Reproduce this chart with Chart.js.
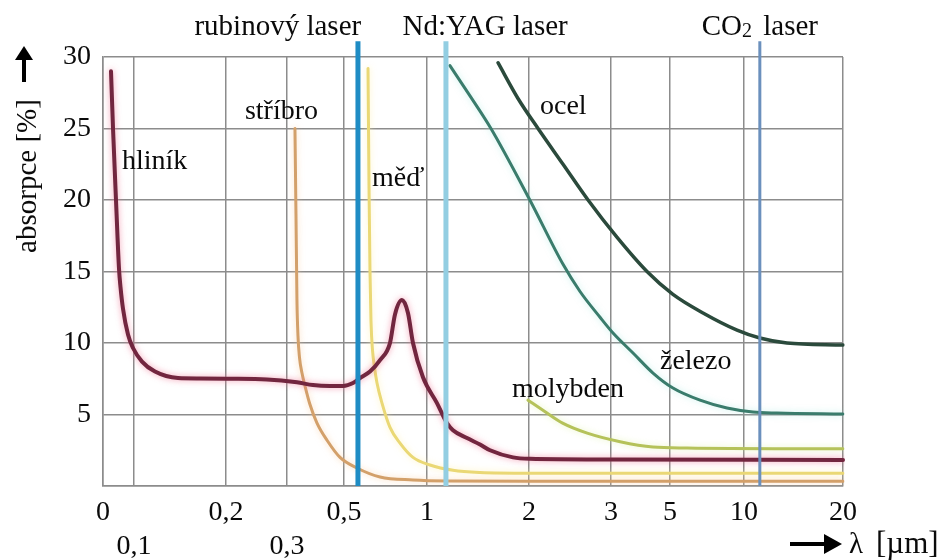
<!DOCTYPE html>
<html>
<head>
<meta charset="utf-8">
<script src="https://cdn.jsdelivr.net/npm/chart.js@4/dist/chart.umd.min.js"></script>
<style>
html,body{margin:0;padding:0;background:#fff;}
#wrap{width:947px;height:560px;position:relative;}
canvas{display:block;}
</style>
</head>
<body>
<div id="wrap"><canvas id="c" width="947" height="560"></canvas></div>
<script>
// ---------- DATA ----------
const tickValues = [0, 0.1, 0.2, 0.3, 0.5, 1, 2, 3, 5, 10, 20];
const tickLabels = ['0', '0,1', '0,2', '0,3', '0,5', '1', '2', '3', '5', '10', '20'];
const yTicks = [0, 5, 10, 15, 20, 25, 30];

const hlinikX = [0.0258,0.0323,0.0419,0.0516,0.0565,0.0645,0.0806,0.0968,0.1087,0.1228,0.1478,0.1717,0.2016,0.2672,0.3351,0.3912,0.4509,0.4965,0.5542,0.5964,0.6566,0.7169,0.7771,0.8072,0.8494,0.8855,0.9157,0.9759,1.098,1.196,1.255,1.392,1.520,1.618,1.843,2.012,3,20];
const hlinikY = [29.0,25,20,15.2,13.9,12.4,10.6,9.65,8.7,8.0,7.55,7.52,7.5,7.45,7.25,7.06,7.0,7.0,7.2,7.55,8.0,8.8,10.0,12.0,13.0,12.1,10.0,7.6,5.8,4.4,3.9,3.35,2.9,2.5,2.0,1.9,1.85,1.82];

const stribroX = [0.328,0.3316,0.335,0.3386,0.3439,0.3526,0.3632,0.3807,0.4053,0.4404,0.486,0.578,0.717,0.916,1.196,2.01,20];
const stribroY = [25,19,13,10.5,9.0,7.9,7.0,5.7,4.4,3.2,2.0,1.26,0.63,0.42,0.35,0.33,0.33];

const medX = [0.6446,0.6506,0.6566,0.6627,0.6717,0.6837,0.6988,0.7289,0.7771,0.8373,0.9157,1.029,1.255,1.52,2.01,20];
const medY = [29.2,21,15,11.5,9.5,8.3,7.2,5.8,4.1,3.0,2.0,1.47,1.1,0.95,0.9,0.9];

const ocelX = [1.696,1.892,2.11,2.415,2.72,3.2,4.22,5.2,7.23,9.53,11.6,14.34,20];
const ocelY = [29.6,27.1,25.0,22.5,20.0,17.4,15.0,13.4,12.1,10.9,10.35,10.0,9.86];

const zelezoX = [1.225,1.42,1.627,2.01,2.415,2.622,2.866,3.068,3.746,4.424,5.2,7.03,8.85,10.9,13.33,20];
const zelezoY = [29.4,27.3,25.0,20.0,15.5,13.6,11.8,10.7,9.3,7.9,6.85,6.0,5.45,5.17,5.1,5.03];

const molybdenX = [1.99,2.17,2.41,2.71,3.31,4.42,6.15,20];
const molybdenY = [6.0,5.3,4.4,3.7,3.1,2.73,2.66,2.6];

const laserNames = ['rubinový laser', 'Nd:YAG laser', 'CO2 laser'];
const laserWavelengths = [0.584, 1.186, 11.6];
const laserLineTop = 31.1;

const curveNames = ['hliník', 'stříbro', 'měď', 'ocel', 'železo', 'molybden'];
const curveLabelX = [0.061, 0.231, 0.669, 2.134, 4.66, 1.833];
const curveLabelY = [22.7, 26.15, 21.5, 26.5, 8.67, 6.71];
const laserLabelX = [0.285, 1.57, 11.6];

// ---------- AXIS GEOMETRY / STYLE ----------
const axisStops = [0, 0.0419, 0.1662, 0.2486, 0.3257, 0.4378, 0.5757, 0.6865, 0.7662, 0.8662, 1];
const labelLowerRow = [false, true, false, true, false, false, false, false, false, false, false];
const FONT_FAMILY = '"Liberation Serif", "Times New Roman", serif';
const FONT_SIZE = 28;
const GRID = '#8c8c8c';
const INK = '#0a0a0a';

class SegmentScale extends Chart.LinearScale {
  determineDataLimits() {
    this.min = tickValues[0];
    this.max = tickValues[tickValues.length - 1];
  }
  buildTicks() {
    return tickValues.map(v => ({ value: v }));
  }
  _toDecimal(v) {
    const n = tickValues.length;
    if (v <= tickValues[0]) return axisStops[0];
    for (let i = 1; i < n; i++) {
      if (v <= tickValues[i]) {
        const t = (v - tickValues[i - 1]) / (tickValues[i] - tickValues[i - 1]);
        return axisStops[i - 1] + t * (axisStops[i] - axisStops[i - 1]);
      }
    }
    return axisStops[n - 1];
  }
  getPixelForValue(v) {
    return this.getPixelForDecimal(this._toDecimal(v));
  }
  getValueForPixel(p) {
    const d = this.getDecimalForPixel(p);
    for (let i = 1; i < axisStops.length; i++) {
      if (d <= axisStops[i]) {
        const t = (d - axisStops[i - 1]) / (axisStops[i] - axisStops[i - 1]);
        return tickValues[i - 1] + t * (tickValues[i] - tickValues[i - 1]);
      }
    }
    return tickValues[tickValues.length - 1];
  }
}
SegmentScale.id = 'segment';
SegmentScale.defaults = {};
Chart.register(SegmentScale);

function pts(xs, ys) { return xs.map((x, i) => ({ x: x, y: ys[i] })); }

const curveStyles = [
  { color: '#72263f', width: 4, glow: 'rgba(240,120,150,0.7)' },
  { color: '#d3a06a', width: 3, glow: 'rgba(250,200,150,0.6)' },
  { color: '#ead875', width: 3, glow: 'rgba(255,240,170,0.7)' },
  { color: '#2b4a3c', width: 3.5, glow: null },
  { color: '#3a7c6c', width: 3, glow: 'rgba(150,230,220,0.5)' },
  { color: '#b5c25a', width: 3, glow: 'rgba(220,240,160,0.6)' }
];
const laserStyles = [
  { color: '#1f8cc4', width: 5 },
  { color: '#93cee2', width: 5 },
  { color: '#6b90bd', width: 3 }
];

const curveData = [
  pts(hlinikX, hlinikY), pts(stribroX, stribroY), pts(medX, medY),
  pts(ocelX, ocelY), pts(zelezoX, zelezoY), pts(molybdenX, molybdenY)
];

const datasets = [];
laserWavelengths.forEach((w, i) => {
  datasets.push({
    label: laserNames[i],
    data: [{ x: w, y: 0 }, { x: w, y: laserLineTop }],
    borderColor: laserStyles[i].color,
    borderWidth: laserStyles[i].width,
    pointRadius: 0,
    tension: 0,
    clip: false,
    borderCapStyle: 'butt'
  });
});
curveData.forEach((d, i) => {
  datasets.push({
    label: curveNames[i],
    data: d,
    borderColor: curveStyles[i].color,
    borderWidth: curveStyles[i].width,
    pointRadius: 0,
    cubicInterpolationMode: 'monotone',
    glow: curveStyles[i].glow,
    borderCapStyle: 'round',
    borderJoinStyle: 'round'
  });
});

const glowPlugin = {
  id: 'glow',
  beforeDatasetDraw(chart, args) {
    const ds = chart.data.datasets[args.index];
    if (ds.glow) {
      chart.ctx.save();
      chart.ctx.shadowColor = ds.glow;
      chart.ctx.shadowBlur = 6;
      ds._glowOn = true;
    }
  },
  afterDatasetDraw(chart, args) {
    const ds = chart.data.datasets[args.index];
    if (ds._glowOn) { chart.ctx.restore(); ds._glowOn = false; }
  }
};

function arrow(ctx, x1, y1, x2, y2, head, halfW, stem) {
  const ang = Math.atan2(y2 - y1, x2 - x1);
  ctx.save();
  ctx.translate(x1, y1);
  ctx.rotate(ang);
  const len = Math.hypot(x2 - x1, y2 - y1);
  ctx.fillStyle = '#000';
  ctx.fillRect(0, -stem / 2, len - head + 1, stem);
  ctx.beginPath();
  ctx.moveTo(len, 0);
  ctx.lineTo(len - head, -halfW);
  ctx.lineTo(len - head, halfW);
  ctx.closePath();
  ctx.fill();
  ctx.restore();
}

const textPlugin = {
  id: 'texts',
  afterDraw(chart) {
    const { ctx, chartArea, scales } = chart;
    const xs = scales.x, ys = scales.y;
    ctx.save();
    ctx.fillStyle = INK;
    ctx.font = FONT_SIZE + 'px ' + FONT_FAMILY;
    ctx.textBaseline = 'middle';
    ctx.textAlign = 'left';
    curveNames.forEach((t, i) => {
      ctx.fillText(t, xs.getPixelForValue(curveLabelX[i]), ys.getPixelForValue(curveLabelY[i]));
    });
    // laser labels
    const ty = chartArea.top - 30;
    const big = (FONT_SIZE + 1) + 'px ' + FONT_FAMILY;
    const small = Math.round(FONT_SIZE * 0.72) + 'px ' + FONT_FAMILY;
    ctx.font = big;
    ctx.textAlign = 'center';
    ctx.fillText(laserNames[0], xs.getPixelForValue(laserLabelX[0]), ty);
    ctx.fillText(laserNames[1], xs.getPixelForValue(laserLabelX[1]), ty);
    // CO2 with subscript
    const wCO = ctx.measureText('CO').width; const wLaser = ctx.measureText(' laser').width;
    ctx.font = small; const w2 = ctx.measureText('2').width;
    const total = wCO + w2 + wLaser + 4;
    let cx = xs.getPixelForValue(laserLabelX[2]) - total / 2;
    ctx.textAlign = 'left';
    ctx.font = big; ctx.fillText('CO', cx, ty); cx += wCO;
    ctx.font = small; ctx.fillText('2', cx, ty + 5); cx += w2 + 4;
    ctx.font = big; ctx.fillText(' laser', cx, ty);

    // y axis title
    ctx.save();
    ctx.translate(36, 176);
    ctx.rotate(-Math.PI / 2);
    ctx.font = (FONT_SIZE + 1) + 'px ' + FONT_FAMILY;
    ctx.textAlign = 'center';
    ctx.textBaseline = 'alphabetic';
    ctx.fillText('absorpce [%]', 0, 0);
    ctx.restore();
    arrow(ctx, 24, 82, 24, 46, 14, 9, 4);

    // x axis title
    arrow(ctx, 790, 544, 842, 544, 18, 10, 4);
    ctx.font = (FONT_SIZE + 1) + 'px ' + FONT_FAMILY;
    ctx.textAlign = 'left';
    ctx.textBaseline = 'alphabetic';
    ctx.fillText('λ', 849, 553);
    ctx.font = (FONT_SIZE + 3) + 'px ' + FONT_FAMILY;
    ctx.fillText('[µm]', 876, 553);
    ctx.restore();
  }
};

new Chart(document.getElementById('c'), {
  type: 'line',
  data: { datasets: datasets },
  plugins: [glowPlugin, textPlugin],
  options: {
    responsive: false,
    devicePixelRatio: 1,
    animation: false,
    layout: { padding: { left: 0, top: 57, right: 104, bottom: 0 } },
    plugins: { legend: { display: false }, tooltip: { enabled: false } },
    scales: {
      x: {
        type: 'segment',
        afterFit(scale) { scale.height = 74; },
        grid: { color: GRID, lineWidth: 1.5, drawTicks: false },
        border: { color: GRID, width: 1.5 },
        ticks: {
          autoSkip: false,
          maxRotation: 0,
          minRotation: 0,
          padding: 10,
          color: INK,
          font: { family: FONT_FAMILY, size: FONT_SIZE, lineHeight: 1.2 },
          callback(value) {
            const i = tickValues.indexOf(value);
            if (i < 0) return '';
            return labelLowerRow[i] ? ['', tickLabels[i]] : tickLabels[i];
          }
        }
      },
      y: {
        type: 'linear',
        min: yTicks[0],
        max: yTicks[yTicks.length - 1],
        afterFit(scale) { scale.width = 103; },
        afterBuildTicks(scale) { scale.ticks = yTicks.map(v => ({ value: v })); },
        grid: { color: GRID, lineWidth: 1.5, drawTicks: false },
        border: { color: GRID, width: 1.5 },
        ticks: {
          padding: 12,
          color: INK,
          font: { family: FONT_FAMILY, size: FONT_SIZE },
          callback(value) { return value === 0 ? '' : String(value); }
        }
      }
    }
  }
});
</script>
</body>
</html>
